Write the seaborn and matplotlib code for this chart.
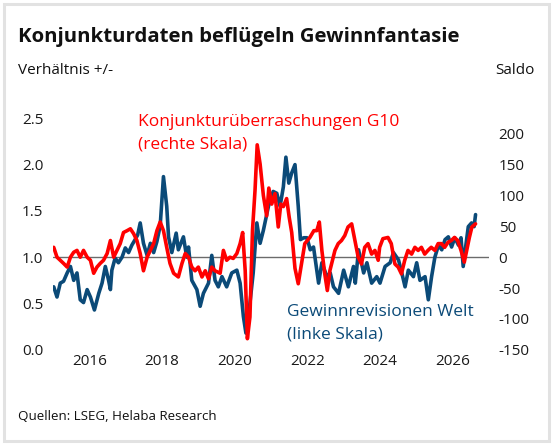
import matplotlib
matplotlib.use("Agg")
import matplotlib.pyplot as plt
import seaborn as sns
import pandas as pd
from matplotlib.patches import Rectangle

# ---- data ----
blue_years = [2015.02, 2015.11, 2015.20, 2015.29, 2015.39, 2015.48, 2015.57, 2015.66, 2015.75, 2015.84,
              2015.94, 2016.03, 2016.14, 2016.26, 2016.35, 2016.44, 2016.53, 2016.58, 2016.62, 2016.71,
              2016.80, 2016.90, 2016.99, 2017.08, 2017.17, 2017.26, 2017.33, 2017.40, 2017.49, 2017.59,
              2017.68, 2017.77, 2017.86, 2017.95, 2018.04, 2018.13, 2018.18, 2018.27, 2018.39, 2018.45,
              2018.59, 2018.68, 2018.73, 2018.82, 2018.96, 2019.05, 2019.14, 2019.28, 2019.37, 2019.46,
              2019.55, 2019.65, 2019.78, 2019.92, 2020.06, 2020.15, 2020.24, 2020.31, 2020.40, 2020.51,
              2020.61, 2020.70, 2020.79, 2020.86, 2020.93, 2021.06, 2021.16, 2021.25, 2021.34, 2021.41,
              2021.49, 2021.57, 2021.66, 2021.75, 2021.81, 2021.90, 2021.99, 2022.08, 2022.17, 2022.31,
              2022.40, 2022.54, 2022.63, 2022.72, 2022.86, 2023.00, 2023.13, 2023.27, 2023.32, 2023.41,
              2023.55, 2023.64, 2023.77, 2023.91, 2024.00, 2024.14, 2024.28, 2024.37, 2024.51, 2024.60,
              2024.69, 2024.78, 2024.92, 2025.01, 2025.10, 2025.24, 2025.33, 2025.42, 2025.51, 2025.61,
              2025.70, 2025.79, 2025.88, 2025.97, 2026.06, 2026.16, 2026.23, 2026.29, 2026.37, 2026.43,
              2026.52, 2026.59, 2026.63]
blue_values = [0.68, 0.57, 0.72, 0.74, 0.83, 0.90, 0.75, 0.83, 0.54, 0.51,
               0.65, 0.57, 0.43, 0.61, 0.72, 0.90, 0.75, 0.65, 0.86, 0.99,
               0.94, 1.00, 1.10, 1.05, 1.13, 1.19, 1.24, 1.37, 1.15, 1.02,
               1.15, 1.05, 1.17, 1.34, 1.87, 1.55, 1.22, 1.05, 1.26, 1.08,
               1.22, 1.00, 1.11, 0.75, 0.65, 0.47, 0.61, 0.72, 1.02, 0.75,
               0.68, 0.79, 0.68, 0.83, 0.86, 0.72, 0.36, 0.18, 0.43, 0.83,
               1.37, 1.15, 1.29, 1.42, 1.55, 1.71, 1.69, 1.55, 1.76, 2.08,
               1.80, 1.91, 2.00, 1.55, 1.19, 1.21, 1.21, 1.08, 1.11, 0.72,
               0.94, 0.79, 0.83, 0.68, 0.61, 0.86, 0.68, 0.90, 0.72, 1.08,
               0.83, 0.94, 0.72, 0.79, 0.72, 0.90, 0.94, 1.05, 0.97, 0.83,
               0.68, 0.86, 0.79, 0.94, 0.75, 0.79, 0.54, 0.79, 1.00, 1.13,
               1.08, 1.19, 1.22, 1.11, 1.21, 1.13, 1.21, 0.90, 1.15, 1.33,
               1.37, 1.33, 1.46]

red_years = [2015.02, 2015.11, 2015.20, 2015.29, 2015.39, 2015.48, 2015.57, 2015.66, 2015.75, 2015.84,
             2015.94, 2016.03, 2016.12, 2016.21, 2016.30, 2016.39, 2016.49, 2016.58, 2016.67, 2016.76,
             2016.85, 2016.94, 2017.04, 2017.13, 2017.22, 2017.31, 2017.40, 2017.49, 2017.59, 2017.68,
             2017.77, 2017.86, 2017.95, 2018.04, 2018.13, 2018.22, 2018.32, 2018.45, 2018.55, 2018.64,
             2018.73, 2018.82, 2018.91, 2019.00, 2019.10, 2019.19, 2019.28, 2019.37, 2019.46, 2019.60,
             2019.69, 2019.78, 2019.87, 2019.96, 2020.06, 2020.15, 2020.22, 2020.29, 2020.35, 2020.42,
             2020.49, 2020.56, 2020.62, 2020.70, 2020.79, 2020.88, 2020.94, 2021.02, 2021.11, 2021.20,
             2021.27, 2021.34, 2021.43, 2021.50, 2021.57, 2021.66, 2021.75, 2021.84, 2021.93, 2022.07,
             2022.18, 2022.26, 2022.33, 2022.40, 2022.48, 2022.55, 2022.62, 2022.76, 2022.85, 2022.94,
             2023.03, 2023.12, 2023.22, 2023.31, 2023.40, 2023.49, 2023.58, 2023.67, 2023.77, 2023.86,
             2023.95, 2023.99, 2024.08, 2024.22, 2024.31, 2024.41, 2024.50, 2024.59, 2024.68, 2024.77,
             2024.87, 2024.96, 2025.05, 2025.14, 2025.23, 2025.32, 2025.41, 2025.51, 2025.60, 2025.69,
             2025.78, 2025.87, 2025.96, 2026.05, 2026.14, 2026.23, 2026.32, 2026.38, 2026.46, 2026.53,
             2026.63]
red_values = [16, 0, -5, -10, -16, 0, 8, 11, 0, 11,
              0, -5, -26, -16, -10, -5, 6, 27, 0, 11,
              22, 40, 43, 46, 38, 27, 6, -22, 0, 11,
              22, 43, 57, 43, 16, -10, -26, -32, -10, 6,
              0, -16, -22, -16, -32, -22, -35, -16, -22, -26,
              11, -5, 0, -2, 6, 22, 40, -22, -132, -97,
              43, 108, 182, 151, 100, 67, 112, 86, 103, 49,
              86, 82, 95, 65, 40, -18, -43, -10, 22, 32,
              43, 43, 57, 11, -27, -54, -22, 11, 22, 27,
              35, 49, 54, 27, 0, -11, 16, 22, 5, 11,
              -5, 16, 30, 32, 22, -11, -16, -27, -5, 11,
              5, 16, 11, 16, 5, 11, 16, 11, 22, 22,
              16, 24, 27, 32, 27, 11, -8, 9, 32, 49,
              54]

left_ticks = [0.0, 0.5, 1.0, 1.5, 2.0, 2.5]
right_ticks = [-150, -100, -50, 0, 50, 100, 150, 200]
year_ticks = [2016, 2018, 2020, 2022, 2024, 2026]

title = "Konjunkturdaten beflügeln Gewinnfantasie"
left_label = "Verhältnis +/-"
right_label = "Saldo"
red_label = "Konjunkturüberraschungen G10\n(rechte Skala)"
blue_label = "Gewinnrevisionen Welt\n(linke Skala)"
source = "Quellen: LSEG, Helaba Research"

BLUE = "#0b4a78"
RED = "#ff0000"

sns.set_style("white")
plt.rcParams['font.family'] = ['Open Sans', 'DejaVu Sans']
plt.rcParams['axes.unicode_minus'] = False

W, H = 554, 444
fig = plt.figure(figsize=(W / 100, H / 100), dpi=100)
ax = fig.add_axes([53 / W, 1 - 349.8 / H, (489 - 53) / W, (349.8 - 118.3) / H])
ax2 = ax.twinx()

blue_df = pd.DataFrame({"Jahr": blue_years, "Wert": blue_values})
red_df = pd.DataFrame({"Jahr": red_years, "Wert": red_values})

ax.axhline(1.0, color="#6b6b6b", lw=1.0, zorder=1)
sns.lineplot(data=blue_df, x="Jahr", y="Wert", ax=ax, color=BLUE, lw=2.6, zorder=2)
sns.lineplot(data=red_df, x="Jahr", y="Wert", ax=ax2, color=RED, lw=2.6, zorder=3)

ax.set_xlim(2015.0, 2027.0)
ax.set_ylim(0, 2.5)
ax2.set_ylim(-150, 225)

ax.set_xticks(year_ticks)
ax.set_xticklabels([str(y) for y in year_ticks])
ax.set_yticks(left_ticks)
ax.set_yticklabels([f"{v:.1f}" for v in left_ticks])
ax2.set_yticks(right_ticks)
ax2.set_yticklabels([str(v) for v in right_ticks])

for a in (ax, ax2):
    a.set_xlabel("")
    a.set_ylabel("")
    for s in a.spines.values():
        s.set_visible(False)
    a.tick_params(length=0, labelsize=11, colors="#1a1a1a")
ax.tick_params(axis="y", pad=7)
ax.tick_params(axis="x", pad=3)
ax2.tick_params(axis="y", pad=7)

ax.text(2017.35, 2.545, red_label, color=RED, fontsize=12.5, ha="left", va="top",
        linespacing=1.5, zorder=5)
ax.text(2021.44, 0.50, blue_label, color=BLUE, fontsize=12.5, ha="left", va="top",
        linespacing=1.55, zorder=5)

fig.text(18 / W, 1 - 37 / H, title, fontsize=14.7, fontweight="bold", va="center", ha="left",
         color="#111111")
fig.text(18 / W, 1 - 70.7 / H, left_label, fontsize=11, va="center", ha="left", color="#111111")
fig.text(535 / W, 1 - 70.7 / H, right_label, fontsize=11, va="center", ha="right", color="#111111")
fig.text(18 / W, 1 - 416 / H, source, fontsize=9.6, va="center", ha="left", color="#111111")

fig.patches.append(Rectangle((4 / W, 1 - 441 / H), 545 / W, 437 / H, transform=fig.transFigure,
                             fill=False, edgecolor="#e2e2e2", lw=2.2))

fig.savefig("out.png", dpi=100)
